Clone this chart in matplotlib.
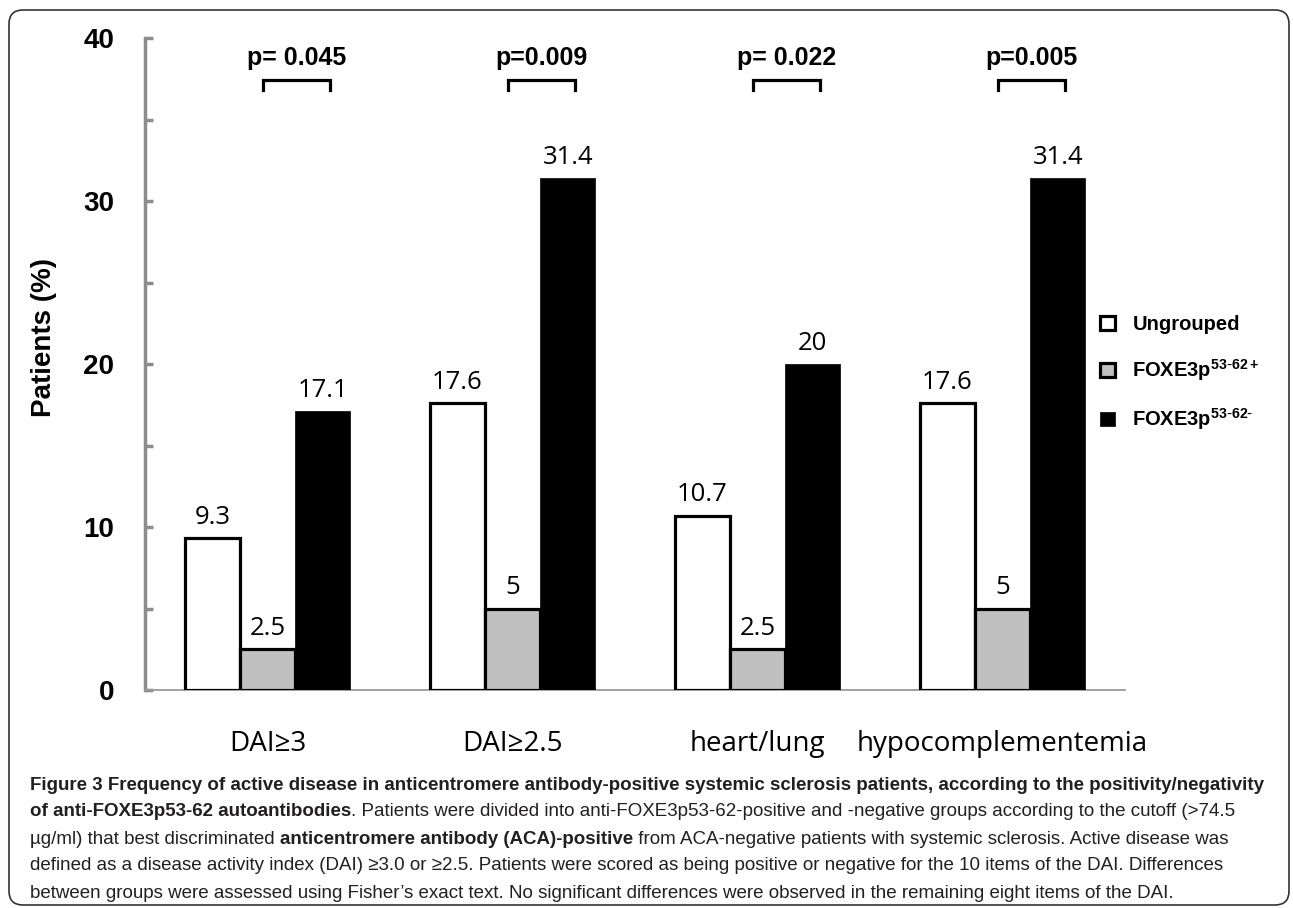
import matplotlib
matplotlib.use('Agg')
import matplotlib.pyplot as plt
import numpy as np
from matplotlib.patches import FancyBboxPatch
from matplotlib.transforms import IdentityTransform

categories = ['DAI≥3', 'DAI≥2.5', 'heart/lung', 'hypocomplementemia']
ungrouped = [9.3, 17.6, 10.7, 17.6]
foxe_pos = [2.5, 5, 2.5, 5]
foxe_neg = [17.1, 31.4, 20, 31.4]
p_labels = ['p= 0.045', 'p=0.009', 'p= 0.022', 'p=0.005']
series_names = ['Ungrouped', 'FOXE3p$^{53\\text{-}62+}$', 'FOXE3p$^{53\\text{-}62\\text{-}}$']

caption = [
    [('Figure 3 Frequency of active disease in anticentromere antibody-positive systemic sclerosis patients, according to the positivity/negativity', 'bold')],
    [('of anti-FOXE3p53-62 autoantibodies', 'bold'),
     ('. Patients were divided into anti-FOXE3p53-62-positive and -negative groups according to the cutoff (>74.5', 'normal')],
    [('µg/ml) that best discriminated ', 'normal'),
     ('anticentromere antibody (ACA)-positive', 'bold'),
     (' from ACA-negative patients with systemic sclerosis. Active disease was', 'normal')],
    [('defined as a disease activity index (DAI) ≥3.0 or ≥2.5. Patients were scored as being positive or negative for the 10 items of the DAI. Differences', 'normal')],
    [('between groups were assessed using Fisher\u2019s exact text. No significant differences were observed in the remaining eight items of the DAI.', 'normal')],
]

sans = ['Liberation Sans', 'DejaVu Sans']
num_fam = ['Open Sans', 'DejaVu Sans']

plt.rcParams['mathtext.default'] = 'regular'

W, H = 1293, 908
fig = plt.figure(figsize=(W / 100, H / 100), dpi=100)

# axes placed in pixel terms of the reference
ax = fig.add_axes([145 / W, (H - 690) / H, 980 / W, 652 / H])
ax.set_xlim(-0.5, 3.5)
ax.set_ylim(0, 40)

x = np.arange(len(categories))
w = 0.225
b1 = ax.bar(x - w, ungrouped, w, color='white', edgecolor='black', linewidth=2.3, zorder=3)
b2 = ax.bar(x, foxe_pos, w, color='#c0c0c0', edgecolor='black', linewidth=2.3, zorder=3)
b3 = ax.bar(x + w, foxe_neg, w, color='black', edgecolor='black', linewidth=0.5, zorder=3)

for bars, vals in [(b1, ungrouped), (b2, foxe_pos), (b3, foxe_neg)]:
    for r, v in zip(bars, vals):
        ax.annotate(f'{v:g}', (r.get_x() + r.get_width() / 2, v), xytext=(0, 6),
                    textcoords='offset points', ha='center', va='bottom',
                    fontsize=18.5, family=num_fam)

# significance brackets between the two FOXE3 groups
for xi, lab in zip(x, p_labels):
    left, right = xi - 0.02, xi + w + 0.03
    ax.plot([left, left, right, right], [36.8, 37.4, 37.4, 36.8], color='black',
            lw=2.3, solid_joinstyle='miter', clip_on=False)
    ax.text((left + right) / 2, 38.8, lab, ha='center', va='center',
            fontsize=18, fontweight='bold', family=sans)

for s in ['top', 'right']:
    ax.spines[s].set_visible(False)
ax.spines['left'].set_color('#8c8c8c')
ax.spines['left'].set_linewidth(2.5)
ax.spines['bottom'].set_color('#9a9a9a')
ax.spines['bottom'].set_linewidth(1.3)

ax.set_yticks([0, 10, 20, 30, 40])
ax.set_yticks([5, 15, 25, 35], minor=True)
ax.tick_params(axis='y', which='both', direction='in', length=6, width=2.5,
               color='#8c8c8c', pad=22)
for t in ax.get_yticklabels():
    t.set_fontsize(20)
    t.set_fontweight('bold')
    t.set_family(sans)

ax.set_xticks(x)
ax.set_xticklabels(categories, fontsize=20, family=num_fam)
ax.tick_params(axis='x', length=0, pad=29)

ax.set_ylabel('Patients (%)', fontsize=20, fontweight='bold', family=sans)
ax.yaxis.set_label_coords(-0.09, 0.54)

leg = ax.legend([b1, b2, b3], series_names, loc='upper left',
                bbox_to_anchor=(1082 / W, (H - 297) / H), bbox_transform=fig.transFigure,
                frameon=False, handlelength=0.75, handleheight=0.75, handletextpad=0.85,
                labelspacing=1.15, prop={'family': sans, 'weight': 'bold', 'size': 14.5})

# rounded frame round the figure and its caption
frame = FancyBboxPatch((9, 3), 1280, 895, boxstyle='round,pad=0,rounding_size=14',
                       transform=IdentityTransform(), fill=False, edgecolor='#333333',
                       linewidth=1.2)
fig.patches.append(frame)

# caption, written piece by piece so bold and plain runs sit on one line;
# size chosen so the first line spans the same width as in the figure
fig.canvas.draw()
renderer = fig.canvas.get_renderer()
probe = fig.text(0, 0, caption[0][0][0], fontsize=10, fontweight='bold', family=sans)
cap_size = 10 * 1242 / probe.get_window_extent(renderer).width
probe.remove()

line_y = [785, 812, 839, 866, 893]
for pieces, yy in zip(caption, line_y):
    xx = 30
    for txt, weight in pieces:
        t = fig.text(xx / W, (H - yy) / H, txt, fontsize=cap_size, fontweight=weight,
                     family=sans, va='center', ha='left', color='#231f20')
        xx += t.get_window_extent(renderer).width

fig.savefig('out.png', dpi=100)
